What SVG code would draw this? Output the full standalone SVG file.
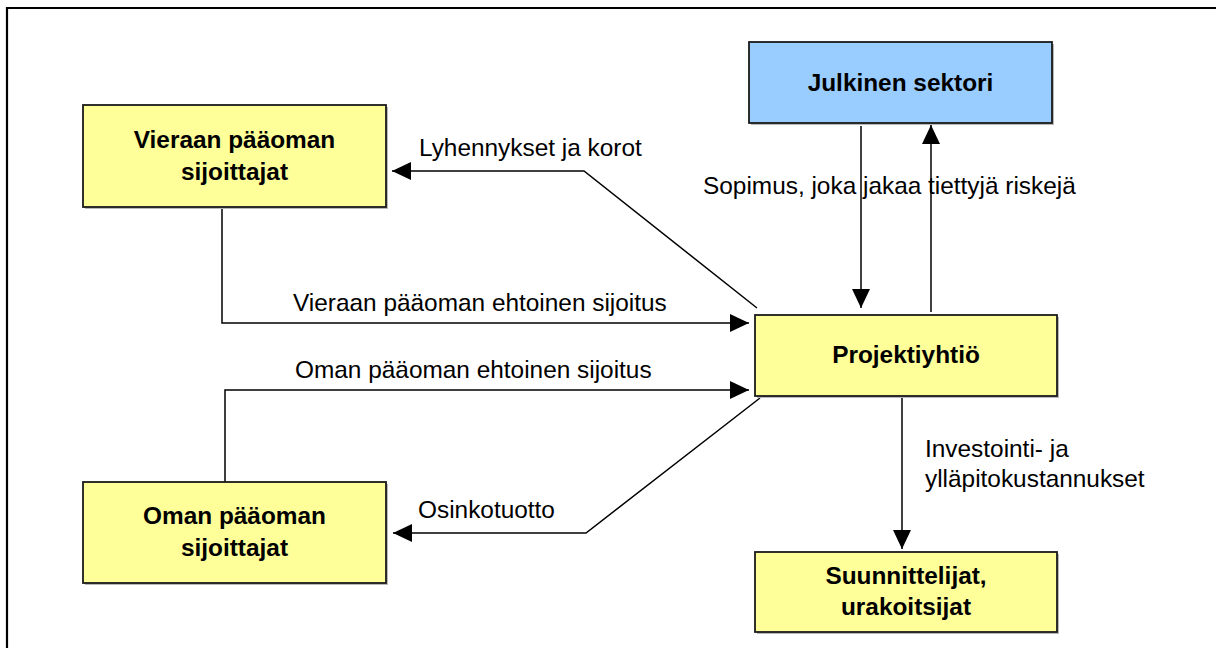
<svg xmlns="http://www.w3.org/2000/svg" width="1216" height="648" viewBox="0 0 1216 648">
  <style>
    .box { stroke: #1a1a1a; stroke-width: 1.8; }
    .yellow { fill: #FFFF99; }
    .blue { fill: #99CCFF; }
    .shadow { fill: #b8b8b8; }
    .nt { font-family: "Liberation Sans", Arial, sans-serif; font-size: 24.4px; font-weight: bold; fill: #000; text-anchor: middle; }
    .lt { font-family: "Liberation Sans", Arial, sans-serif; font-size: 24.4px; fill: #000; }
    .conn { fill: none; stroke: #000; stroke-width: 1.5; }
  </style>
  <defs>
    <marker id="arrow" markerUnits="userSpaceOnUse" markerWidth="19" markerHeight="18" refX="19" refY="9" orient="auto">
      <path d="M0,0 L19,9 L0,18 Z" fill="#000"/>
    </marker>
  </defs>
  <rect width="1216" height="648" fill="#fff"/>
  <path d="M7,648 V8 H1216" fill="none" stroke="#000" stroke-width="2.2"/>

  <g id="connectors">
    <path class="conn" d="M222,207 V323 H749" marker-end="url(#arrow)"/>
    <path class="conn" d="M225,482 V390 H749" marker-end="url(#arrow)"/>
    <path class="conn" d="M757,308 L584,171 H392" marker-end="url(#arrow)"/>
    <path class="conn" d="M760,398 L586,533 H393" marker-end="url(#arrow)"/>
    <path class="conn" d="M861,126 V308" marker-end="url(#arrow)"/>
    <path class="conn" d="M931,312 V125" marker-end="url(#arrow)"/>
    <path class="conn" d="M902,398 V549" marker-end="url(#arrow)"/>
    <text class="lt" x="419" y="156">Lyhennykset ja korot</text>
    <text class="lt" x="293" y="311">Vieraan pääoman ehtoinen sijoitus</text>
    <text class="lt" x="295" y="378">Oman pääoman ehtoinen sijoitus</text>
    <text class="lt" x="418" y="518">Osinkotuotto</text>
    <text class="lt" x="703" y="194">Sopimus, joka jakaa tiettyjä riskejä</text>
    <text class="lt" x="925" y="457">Investointi- ja</text>
    <text class="lt" x="925" y="487">ylläpitokustannukset</text>
  </g>

  <g id="vieraan">
    <rect class="shadow" x="85" y="107" width="303" height="102"/>
    <rect class="box yellow" x="83" y="105" width="303" height="102"/>
    <text class="nt" x="234.5" y="148">Vieraan pääoman</text>
    <text class="nt" x="234.5" y="180">sijoittajat</text>
  </g>

  <g id="julkinen">
    <rect class="shadow" x="751" y="44" width="303" height="81"/>
    <rect class="box blue" x="749" y="42" width="303" height="81"/>
    <text class="nt" x="900.5" y="91">Julkinen sektori</text>
  </g>

  <g id="projektiyhtio">
    <rect class="shadow" x="757" y="317" width="302" height="81"/>
    <rect class="box yellow" x="755" y="315" width="302" height="81"/>
    <text class="nt" x="906" y="363">Projektiyhtiö</text>
  </g>

  <g id="oman">
    <rect class="shadow" x="85" y="484" width="303" height="101"/>
    <rect class="box yellow" x="83" y="482" width="303" height="101"/>
    <text class="nt" x="234.5" y="524">Oman pääoman</text>
    <text class="nt" x="234.5" y="556">sijoittajat</text>
  </g>

  <g id="suunnittelijat">
    <rect class="shadow" x="757" y="554" width="302" height="80"/>
    <rect class="box yellow" x="755" y="552" width="302" height="80"/>
    <text class="nt" x="906" y="584">Suunnittelijat,</text>
    <text class="nt" x="906" y="615">urakoitsijat</text>
  </g>
</svg>
